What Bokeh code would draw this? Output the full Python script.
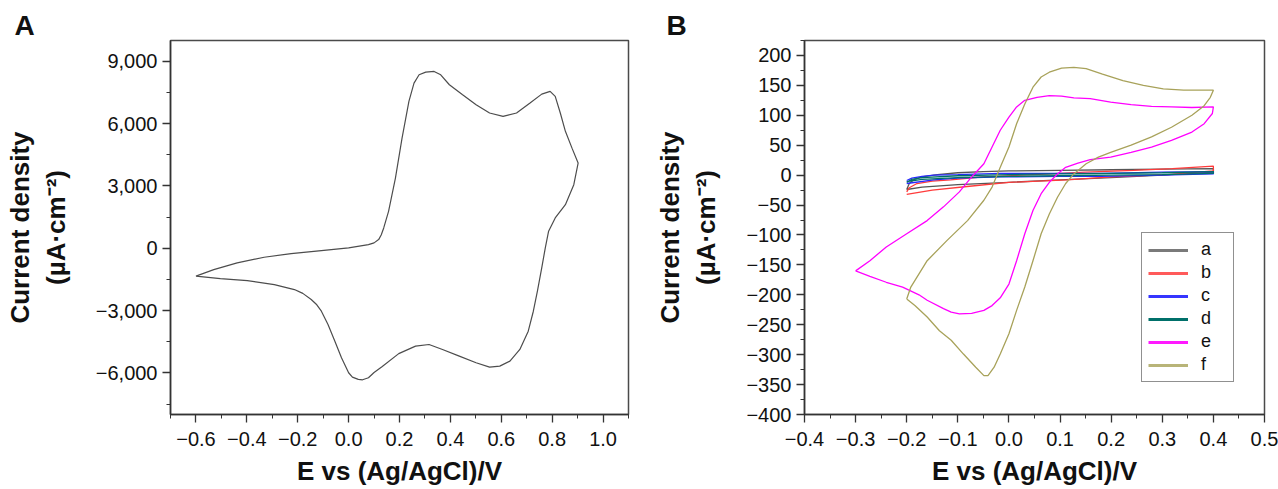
from bokeh.plotting import figure
from bokeh.layouts import row
from bokeh.models import (FixedTicker, CustomJSTickFormatter, Range1d, Legend, LegendItem)
from bokeh.embed import file_html
from bokeh.resources import INLINE

# ---------------- Panel A data (E in V, J in uA/cm2) ----------------
A_E = [-0.600, -0.530, -0.438, -0.332, -0.226, -0.107, 0.000, 0.078, 0.100, 0.118, 0.128, 0.138,
       0.157, 0.184, 0.210, 0.237, 0.257, 0.277, 0.303, 0.336, 0.362, 0.396, 0.448, 0.501, 0.554,
       0.607, 0.660, 0.713, 0.759, 0.792, 0.812, 0.832, 0.852, 0.878, 0.902,
       0.885, 0.852, 0.812, 0.786, 0.773, 0.759, 0.742, 0.726, 0.706, 0.673, 0.634, 0.594, 0.554,
       0.501, 0.435, 0.369, 0.316, 0.263, 0.197, 0.131, 0.100, 0.078, 0.055, 0.038, 0.015, 0.000,
       -0.028, -0.054, -0.081, -0.107, -0.125, -0.147, -0.180, -0.213, -0.292, -0.398, -0.504, -0.600]
A_J = [-1340, -1025, -705, -433, -256, -112, 16, 176, 260, 417, 640, 978,
       1780, 3380, 5300, 7070, 7950, 8350, 8480, 8510, 8350, 7870, 7390, 6910, 6510,
       6350, 6510, 6990, 7420, 7550, 7310, 6510, 5630, 4820, 4100,
       3060, 2100, 1460, 820, 20, -940, -2060, -3030, -3990, -4870, -5430, -5670, -5720,
       -5510, -5190, -4870, -4630, -4710, -5070, -5700, -5980, -6230, -6330, -6310, -6200, -5990,
       -5270, -4470, -3670, -3029, -2720, -2467, -2170, -1987, -1746, -1554, -1458, -1340]

A_XTICKS = [-0.6, -0.4, -0.2, 0.0, 0.2, 0.4, 0.6, 0.8, 1.0]
A_XMINOR = [-0.7, -0.5, -0.3, -0.1, 0.1, 0.3, 0.5, 0.7, 0.9, 1.1]
A_YTICKS = [-6000, -3000, 0, 3000, 6000, 9000]
A_YMINOR = [-7500, -4500, -1500, 1500, 4500, 7500]

# ---------------- Panel B data ----------------
a_E = [-0.200, -0.195, -0.185, -0.170, -0.140, -0.100, -0.050, 0.000, 0.100, 0.200, 0.300, 0.400,
       0.400, 0.300, 0.200, 0.100, 0.000, -0.100, -0.170, -0.200]
a_J = [-24, -14, -7, -3, 1, 4, 6, 7, 8, 9, 10, 11,
       5, 0, -4, -8, -12, -16, -20, -24]

b_E = [-0.200, -0.195, -0.180, -0.150, -0.114, -0.050, 0.048, 0.150, 0.244, 0.320, 0.400,
       0.400, 0.310, 0.200, 0.114, 0.000, -0.082, -0.150, -0.200]
b_J = [-28, -21, -14, -10, -8, -3, 1, 5, 8, 11, 15,
       7, 1, -3, -8, -12, -19, -25, -32]

c_E = [-0.200, -0.190, -0.170, -0.147, -0.100, -0.016, 0.100, 0.180, 0.300, 0.400,
       0.400, 0.300, 0.180, 0.100, -0.016, -0.100, -0.147, -0.200]
c_J = [-9, -5, -2, 0, 1, 3, 3, 3, 5, 6,
       2, 0, -2, -2, -3, -5, -8, -14]

d_E = [-0.200, -0.190, -0.170, -0.100, 0.000, 0.100, 0.200, 0.300, 0.400,
       0.400, 0.300, 0.200, 0.100, 0.000, -0.100, -0.170, -0.200]
d_J = [-12, -7, -4, -1, 1, 2, 3, 4, 6,
       3, 1, 0, -1, -2, -4, -7, -11]

e_E = [-0.300, -0.272, -0.240, -0.200, -0.160, -0.128, -0.097, -0.073, -0.049, -0.033, -0.017, 0.000,
       0.015, 0.031, 0.055, 0.079, 0.103, 0.127, 0.159, 0.199, 0.239, 0.279, 0.318, 0.358, 0.400,
       0.398, 0.382, 0.358, 0.318, 0.279, 0.239, 0.199, 0.159, 0.135, 0.111, 0.095, 0.079, 0.063,
       0.047, 0.031, 0.015, 0.000, -0.017, -0.033, -0.049, -0.073, -0.097, -0.113, -0.128, -0.160,
       -0.176, -0.208, -0.240, -0.272, -0.300]
e_J = [-160, -143, -120, -98, -76, -53, -28, -3, 19, 47, 75, 97,
       114, 125, 130, 133, 132, 129, 128, 122, 118, 115, 114, 113, 114,
       103, 86, 72, 58, 47, 38, 30, 26, 20, 13, 2, -12, -31,
       -59, -98, -143, -182, -205, -218, -226, -231, -232, -229, -223, -209,
       -200, -187, -179, -169, -160]

f_E = [-0.200, -0.192, -0.160, -0.121, -0.081, -0.049, -0.033, -0.017, 0.000, 0.015, 0.031, 0.047,
       0.063, 0.079, 0.103, 0.127, 0.151, 0.183, 0.223, 0.263, 0.302, 0.342, 0.382, 0.400,
       0.394, 0.382, 0.358, 0.318, 0.279, 0.239, 0.199, 0.175, 0.151, 0.127, 0.111, 0.095, 0.079,
       0.063, 0.047, 0.031, 0.015, 0.000, -0.017, -0.029, -0.041, -0.049, -0.065, -0.089, -0.113,
       -0.136, -0.160, -0.184, -0.200]
f_J = [-207, -187, -143, -109, -76, -42, -20, 13, 47, 86, 119, 147,
       164, 172, 179, 180, 178, 169, 158, 150, 144, 142, 142, 142,
       130, 116, 100, 80, 64, 50, 38, 30, 19, 2, -14, -37, -65,
       -98, -143, -187, -226, -265, -299, -321, -335, -335, -321, -299, -276,
       -260, -237, -218, -207]

B_LABELS = ["a", "b", "c", "d", "e", "f"]
B_COLORS = ["#555555", "#ff3b3b", "#2828ff", "#00706a", "#ff00ff", "#a8a25a"]
B_LEGEND_COLORS = ["#7a7a7a", "#ff5a5a", "#3535ff", "#00706a", "#ff1aff", "#b8b478"]

B_XTICKS = [-0.4, -0.3, -0.2, -0.1, 0.0, 0.1, 0.2, 0.3, 0.4, 0.5]
B_XMINOR = [-0.35, -0.25, -0.15, -0.05, 0.05, 0.15, 0.25, 0.35, 0.45]
B_YTICKS = [-400, -350, -300, -250, -200, -150, -100, -50, 0, 50, 100, 150, 200]
B_YMINOR = [-375, -325, -275, -225, -175, -125, -75, -25, 25, 75, 125, 175, 225]

FONT = "Liberation Sans"
TICK_SIZE = "20px"
TITLE_SIZE = "26px"
YLABEL = "Current density\n(\u00b5A\u00b7cm\u207b\u00b2)"
XLABEL = "E vs (Ag/AgCl)/V"

fmt_thousands = CustomJSTickFormatter(code="""
  const s = Math.abs(tick).toLocaleString('en-US');
  return (tick < 0 ? '\\u2212' : '') + s;
""")
fmt_int = CustomJSTickFormatter(code="""
  return (tick < 0 ? '\\u2212' : '') + Math.abs(Math.round(tick)).toString();
""")
fmt_dec = CustomJSTickFormatter(code="""
  const v = Math.round(tick * 10) / 10;
  return (v < 0 ? '\\u2212' : '') + Math.abs(v).toFixed(1);
""")


def style(p, xt, xm, yt, ym, xf, yf, letter, letter_offset):
    p.xaxis.ticker = FixedTicker(ticks=xt, minor_ticks=xm)
    p.yaxis.ticker = FixedTicker(ticks=yt, minor_ticks=ym)
    p.xaxis.formatter = xf
    p.yaxis.formatter = yf
    p.xgrid.visible = False
    p.ygrid.visible = False
    p.outline_line_color = "#4a4a4a"
    p.outline_line_width = 1.5
    for ax in (p.xaxis, p.yaxis):
        ax.axis_line_color = "#333333"
        ax.axis_line_width = 1.5
        ax.major_tick_line_color = "#333333"
        ax.major_tick_line_width = 1.3
        ax.minor_tick_line_color = "#333333"
        ax.minor_tick_line_width = 1.0
        ax.major_tick_in = 0
        ax.major_tick_out = 8
        ax.minor_tick_in = 0
        ax.minor_tick_out = 4
        ax.major_label_text_font = FONT
        ax.major_label_text_font_size = TICK_SIZE
        ax.major_label_text_color = "#111111"
        ax.axis_label_text_font = FONT
        ax.axis_label_text_font_size = TITLE_SIZE
        ax.axis_label_text_font_style = "bold"
        ax.axis_label_text_color = "#111111"
    p.xaxis.axis_label = XLABEL
    p.yaxis.axis_label = YLABEL
    p.xaxis.major_label_standoff = 9
    p.yaxis.major_label_standoff = 5
    p.xaxis.axis_label_standoff = 7
    p.yaxis.axis_label_standoff = 22
    p.title.text = letter
    p.title.align = "left"
    p.title.offset = letter_offset
    p.title.standoff = 0
    p.title.text_font = FONT
    p.title.text_font_size = "28px"
    p.title.text_font_style = "bold"
    p.title.text_color = "#111111"


# ---------------- Figure A ----------------
pA = figure(frame_width=458, frame_height=374, output_backend="svg", toolbar_location=None,
            x_range=Range1d(-0.7, 1.1), y_range=Range1d(-8000, 10000),
            min_border_left=170, min_border_right=12, min_border_top=40, min_border_bottom=74)
style(pA, A_XTICKS, A_XMINOR, A_YTICKS, A_YMINOR, fmt_dec, fmt_thousands, "A", -156)
pA.line(A_E, A_J, line_color="#4d4d4d", line_width=1.2)

# ---------------- Figure B ----------------
pB = figure(frame_width=460, frame_height=374, output_backend="svg", toolbar_location=None,
            x_range=Range1d(-0.4, 0.5), y_range=Range1d(-400, 225),
            min_border_left=164, min_border_right=14, min_border_top=40, min_border_bottom=74)
style(pB, B_XTICKS, B_XMINOR, B_YTICKS, B_YMINOR, fmt_dec, fmt_int, "B", -138)

series = [(a_E, a_J), (b_E, b_J), (c_E, c_J), (d_E, d_J), (e_E, e_J), (f_E, f_J)]
for (E, J), col in zip(series, B_COLORS):
    pB.line(E, J, line_color=col, line_width=1.3)

NAN = float("nan")
items = []
for lab, col in zip(B_LABELS, B_LEGEND_COLORS):
    r = pB.line(x=[NAN], y=[NAN], line_color=col, line_width=3)
    items.append(LegendItem(label=lab, renderers=[r]))
legend = Legend(items=items, location=(337, 32), orientation="vertical",
                glyph_width=40, glyph_height=20, label_height=20, label_width=26,
                spacing=2, padding=6, margin=0, label_standoff=13,
                label_text_font=FONT, label_text_font_size="18px", label_text_color="#111111",
                border_line_color="#222222", border_line_width=1.5,
                background_fill_color="white", background_fill_alpha=1.0)
pB.add_layout(legend, "center")

layout = row(pA, pB)
open("out.html", "w").write(file_html(layout, INLINE))
